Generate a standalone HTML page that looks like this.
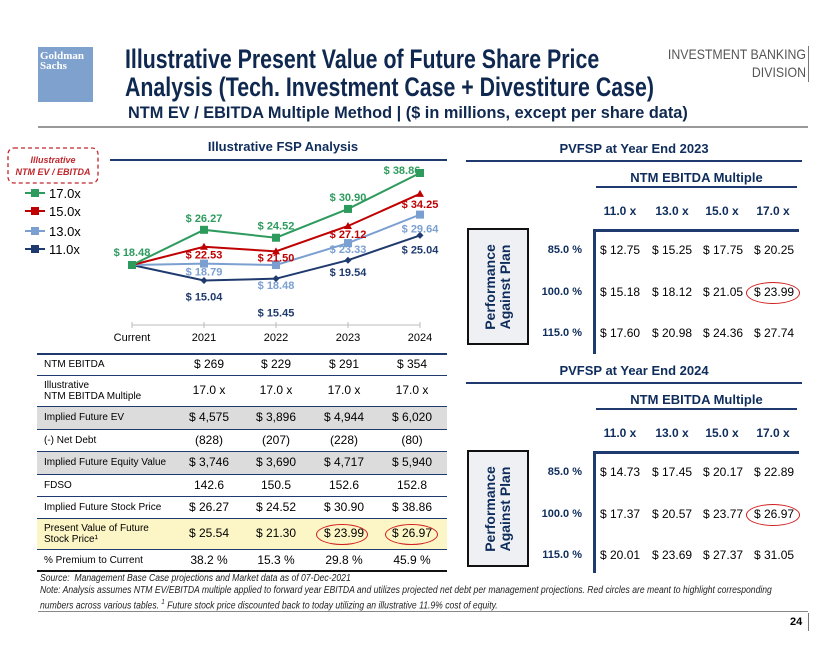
<!DOCTYPE html>
<html><head><meta charset="utf-8">
<style>
body{margin:0;background:#fff;}
#page{position:relative;width:840px;height:649px;overflow:hidden;font-family:"Liberation Sans",Arial,sans-serif;color:#000;}
.a{position:absolute;white-space:nowrap;}
.navy{color:#0f2d5c;}
.cond{transform-origin:left top;}
.c{text-align:center;}
</style></head>
<body>
<div id="page">
<!-- header -->
<div class="a" style="left:38px;top:47px;width:55px;height:55px;background:#7fa1cd;color:#fff;font-family:'Liberation Serif',serif;font-size:11px;line-height:10px;padding:4px 0 0 2px;box-sizing:border-box;font-weight:bold;">Goldman<br>Sachs</div>
<div class="a navy cond" style="left:125px;top:45px;font-size:27px;font-weight:bold;line-height:28px;transform:scaleX(0.79);color:#0f2850;">Illustrative Present Value of Future Share Price<br>Analysis (Tech. Investment Case + Divestiture Case)</div>
<div class="a cond" style="left:128px;top:103px;font-size:17px;font-weight:bold;transform:scaleX(0.96);color:#0f2850;">NTM EV / EBITDA Multiple Method | ($ in millions, except per share data)</div>
<div class="a" style="left:640px;top:45px;width:166px;text-align:right;font-size:14px;line-height:18px;color:#555;transform:scaleX(0.88);transform-origin:right top;">INVESTMENT BANKING<br>DIVISION</div>
<div class="a" style="left:808px;top:46px;width:1px;height:36px;background:#777;"></div>
<div class="a" style="left:38px;top:126px;width:770px;height:2px;background:#999;"></div>

<!-- chart -->
<svg class="a" style="left:0;top:0" width="840" height="649" id="chart">
<rect x="8" y="148" width="90" height="35" rx="6" fill="none" stroke="#c0272d" stroke-width="1.3" stroke-dasharray="4,3"/>
<text x="53" y="163" text-anchor="middle" font-size="9" font-style="italic" font-weight="bold" fill="#c0272d" font-family="Liberation Sans">Illustrative</text>
<text x="53" y="175" text-anchor="middle" font-size="9" font-style="italic" font-weight="bold" fill="#c0272d" font-family="Liberation Sans">NTM EV / EBITDA</text>
<text x="283" y="151" text-anchor="middle" font-size="13" font-weight="bold" fill="#0f2d5c" font-family="Liberation Sans">Illustrative FSP Analysis</text>
<line x1="110" y1="160" x2="447" y2="160" stroke="#1f3a6e" stroke-width="2"/>
<line x1="132" y1="325" x2="420" y2="325" stroke="#bbb" stroke-width="1"/>
<g id="plot"></g>
</svg>

<div id="ltable"></div>
<div id="rtables"></div>

<!-- footnotes -->
<div class="a" style="left:40px;top:573px;font-size:10px;font-style:italic;line-height:12px;color:#222;transform:scaleX(0.86);transform-origin:left top;">Source:&nbsp; Management Base Case projections and Market data as of 07-Dec-2021<br>Note: Analysis assumes NTM EV/EBITDA multiple applied to forward year EBITDA and utilizes projected net debt per management projections. Red circles are meant to highlight corresponding<br>numbers across various tables. <sup style="font-size:7px">1</sup> Future stock price discounted back to today utilizing an illustrative 11.9% cost of equity.</div>
<div class="a" style="left:38px;top:611px;width:770px;height:1px;background:#888;"></div>
<div class="a" style="left:790px;top:616px;font-size:11px;font-weight:bold;">24</div>
<div class="a" style="left:808px;top:613px;width:1px;height:18px;background:#777;"></div>
</div>

<script>
const years = ["Current","2021","2022","2023","2024"];
const seriesNames = ["17.0x","15.0x","13.0x","11.0x"];
const s17 = [18.48,26.27,24.52,30.90,38.86];
const s15 = [18.48,22.53,21.50,27.12,34.25];
const s13 = [18.48,18.79,18.48,23.33,29.64];
const s11 = [18.48,15.04,15.45,19.54,25.04];
const seriesColors = ["#2e9b5e","#c00000","#7b9fd1","#1f3a6e"];
const markers = ["square","triangle","square","diamond"];
// label vertical offsets (layout only)
const lblDy = [[-12,-12,-12,-12,-3],[null,8,6,8,10],[null,8,20,6,14],[null,16,34,12,14]];

const NS="http://www.w3.org/2000/svg";
const plot=document.getElementById('plot');
function xs(i){return 132+i*72;}
function ys(v){return 265-(v-18.48)*4.514;}
function mk(tag,attrs){const e=document.createElementNS(NS,tag);for(const k in attrs)e.setAttribute(k,attrs[k]);return e;}
const all=[s17,s15,s13,s11];
years.forEach((y,i)=>{
  const t=mk('text',{x:xs(i),y:341,'text-anchor':'middle','font-size':11,'font-family':'Liberation Sans'});
  
  
  t.textContent=y;plot.appendChild(t);
  plot.appendChild(mk('line',{x1:xs(i),y1:322,x2:xs(i),y2:328,stroke:'#bbb'}));
});
for(let s=3;s>=0;s--){
  const d=all[s];const col=seriesColors[s];
  const pl=mk('polyline',{points:d.map((v,i)=>xs(i)+','+ys(v)).join(' '),fill:'none',stroke:col,'stroke-width':2});
  
  
  plot.appendChild(pl);
  d.forEach((v,i)=>{
    const x=xs(i),y=ys(v);let m;
    if(markers[s]=='square')m=mk('rect',{x:x-4,y:y-4,width:8,height:8,fill:col});
    else if(markers[s]=='triangle')m=mk('polygon',{points:`${x},${y-4} ${x+4},${y+3} ${x-4},${y+3}`,fill:col});
    else m=mk('polygon',{points:`${x},${y-3.5} ${x+3.5},${y} ${x},${y+3.5} ${x-3.5},${y}`,fill:col});
    
    
    plot.appendChild(m);
    const dy=lblDy[s][i];
    if(dy===null)return;
    let lx=x; if(i==4&&s==0)lx=x-18;
    let ly=(i==0)?y-9:y+dy+4;
    const t=mk('text',{x:lx,y:ly,'text-anchor':'middle','font-size':11,'font-weight':'bold',fill:col,'font-family':'Liberation Sans'});
    
    
    t.textContent='$ '+v.toFixed(2);plot.appendChild(t);
  });
}
const legY=[193,211,231,249];
seriesNames.forEach((n,s)=>{
  plot.appendChild(mk('line',{x1:25,y1:legY[s],x2:45,y2:legY[s],stroke:seriesColors[s],'stroke-width':2}));
  plot.appendChild(mk('rect',{x:31,y:legY[s]-4,width:8,height:8,fill:seriesColors[s]}));
  const t=mk('text',{x:49,y:legY[s]+5,'font-size':13,'font-family':'Liberation Sans'});
  
  
  t.textContent=n;plot.appendChild(t);
});

const rowLabels=["NTM EBITDA","Illustrative<br>NTM EBITDA Multiple","Implied Future EV","(-) Net Debt","Implied Future Equity Value","FDSO","Implied Future Stock Price","Present Value of Future<br>Stock Price¹","% Premium to Current"];
const rowVals=[["$ 269","$ 229","$ 291","$ 354"],["17.0 x","17.0 x","17.0 x","17.0 x"],["$ 4,575","$ 3,896","$ 4,944","$ 6,020"],["(828)","(207)","(228)","(80)"],["$ 3,746","$ 3,690","$ 4,717","$ 5,940"],["142.6","150.5","152.6","152.8"],["$ 26.27","$ 24.52","$ 30.90","$ 38.86"],["$ 25.54","$ 21.30","$ 23.99","$ 26.97"],["38.2 %","15.3 %","29.8 %","45.9 %"]];
const rowTops=[353,375,406,429,451,474,496,518,549,571];
const rowBg=["#fff","#fff","#dcdcdc","#fff","#dcdcdc","#fff","#fff","#fcf6c6","#fff"];
const colC=[209,276,344,412];
let h='';
rowLabels.forEach((l,r)=>{
  const t=rowTops[r],hh=rowTops[r+1]-t;
  h+=`<div class="a" style="left:37px;top:${t}px;width:410px;height:${hh}px;background:${rowBg[r]}"></div>`;
  h+=`<div class="a" style="left:44px;top:${t}px;height:${hh}px;display:flex;align-items:center;font-size:10px;line-height:11px;">${l}</div>`;
  rowVals[r].forEach((v,c)=>{
    h+=`<div class="a c" style="left:${colC[c]-35}px;width:70px;top:${t}px;height:${hh}px;line-height:${hh}px;font-size:12px;">${v}</div>`;
  });
  h+=`<div class="a" style="left:37px;top:${t}px;width:410px;height:${r==0?2:1}px;background:#1f3a6e"></div>`;
});
h+=`<div class="a" style="left:37px;top:570px;width:410px;height:2px;background:#111"></div>`;
h+=`<div class="a" style="left:316px;top:524px;width:50px;height:19px;border:1.5px solid #d01c1c;border-radius:50%"></div>`;
h+=`<div class="a" style="left:385px;top:524px;width:51px;height:19px;border:1.5px solid #d01c1c;border-radius:50%"></div>`;
document.getElementById('ltable').innerHTML=h;

const multHeaders=["11.0 x","13.0 x","15.0 x","17.0 x"];
const perfLabels=["85.0 %","100.0 %","115.0 %"];
const pv2023=[["$ 12.75","$ 15.25","$ 17.75","$ 20.25"],["$ 15.18","$ 18.12","$ 21.05","$ 23.99"],["$ 17.60","$ 20.98","$ 24.36","$ 27.74"]];
const pv2024=[["$ 14.73","$ 17.45","$ 20.17","$ 22.89"],["$ 17.37","$ 20.57","$ 23.77","$ 26.97"],["$ 20.01","$ 23.69","$ 27.37","$ 31.05"]];
function sens(top,title,data,name){
  let s='';
  s+=`<div class="a c navy" style="left:466px;width:336px;top:${top-7}px;font-size:13px;font-weight:bold;">${title}</div>`;
  s+=`<div class="a" style="left:466px;top:${top+12}px;width:336px;height:2px;background:#1f3a6e"></div>`;
  s+=`<div class="a c navy" style="left:596px;width:201px;top:${top+22}px;font-size:13px;font-weight:bold;">NTM EBITDA Multiple</div>`;
  s+=`<div class="a" style="left:596px;top:${top+38}px;width:201px;height:2px;background:#1f3a6e"></div>`;
  const hc=[620,672,722,773];
  multHeaders.forEach((m,i)=>{s+=`<div class="a c navy" style="left:${hc[i]-30}px;width:60px;top:${top+56}px;font-size:12px;font-weight:bold;">${m}</div>`;});
  s+=`<div class="a" style="left:467px;top:${top+80}px;width:62px;height:117px;background:#eef0f3;border:2.5px solid #111;box-sizing:border-box;"></div>`;
  s+=`<div class="a navy" style="left:498px;top:${top+139}px;transform:translate(-50%,-50%) rotate(-90deg);font-size:14px;font-weight:bold;line-height:15px;text-align:center;">Performance<br>Against Plan</div>`;
  s+=`<div class="a" style="left:593px;top:${top+81}px;width:3px;height:${top==148?125:122}px;background:#1f3a6e"></div>`;
  s+=`<div class="a" style="left:593px;top:${top+81}px;width:206px;height:3px;background:#1f3a6e"></div>`;
  const ry=[top+103,top+145,top+186];
  const vx=[600,652,703,754];
  perfLabels.forEach((p,r)=>{
    s+=`<div class="a navy" style="left:530px;width:52px;text-align:right;top:${ry[r]-7}px;font-size:11px;font-weight:bold;">${p}</div>`;
    data[r].forEach((v,c)=>{s+=`<div class="a" style="left:${vx[c]}px;top:${ry[r]-8}px;font-size:12px;">${v}</div>`;});
  });
  s+=`<div class="a" style="left:746px;top:${ry[1]-11}px;width:52px;height:20px;border:1.5px solid #d01c1c;border-radius:50%"></div>`;
  return s;
}
document.getElementById('rtables').innerHTML=sens(148,"PVFSP at Year End 2023",pv2023,"pvfsp-2023")+sens(370,"PVFSP at Year End 2024",pv2024,"pvfsp-2024");
</script>
</body></html>
